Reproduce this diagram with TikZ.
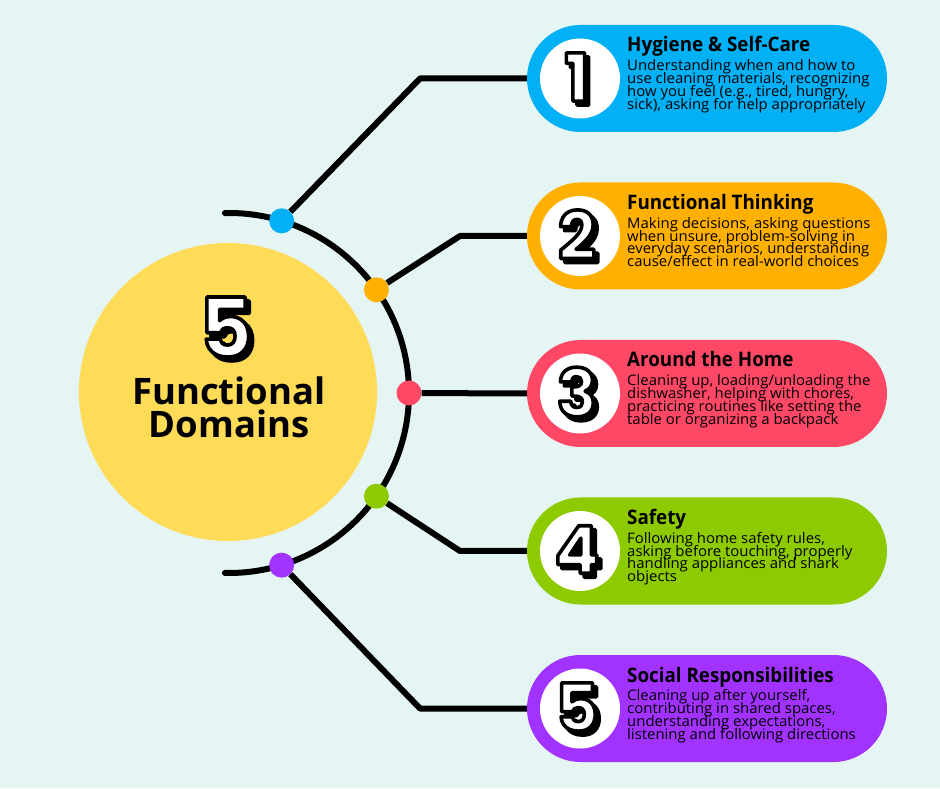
\documentclass[tikz,border=0pt]{standalone}
\usepackage{fontspec}
\setmainfont{Open Sans}
\newfontfamily\numfont{Poppins}
\newfontfamily\headfont{Open Sans}[FakeStretch=0.94]
\newfontfamily\bodyfont{Open Sans}[FakeStretch=1.03]
\usetikzlibrary{calc}
\setlength{\lineskiplimit}{-20pt}

\definecolor{mint}{HTML}{E5F5F4}
\definecolor{sunny}{HTML}{FFDC58}
\definecolor{skyblue}{HTML}{02B0F5}
\definecolor{amber}{HTML}{FFB000}
\definecolor{rosered}{HTML}{FF4766}
\definecolor{limegreen}{HTML}{8DCB00}
\definecolor{violet}{HTML}{A132FF}

\tikzset{
  dot/.style={circle, inner sep=0pt, minimum size=25pt},
  pill/.style={rectangle, rounded corners=53.5pt, minimum width=360pt, minimum height=107pt, inner sep=0pt},
  numdisc/.style={circle, fill=white, inner sep=0pt, minimum size=80pt},
  link/.style={line width=6pt, line join=round},
  heading/.style={anchor=base west, inner sep=0pt, font=\headfont\bfseries\fontsize{20}{22}\selectfont},
  blurb/.style={anchor=north west, inner sep=0pt, align=left, font=\bodyfont\fontsize{14.5}{12.8}\selectfont},
  bigword/.style={anchor=base, inner sep=0pt, font=\bfseries\fontsize{36.5}{36.5}\selectfont},
  digit/.style={inner sep=0pt, text=white, font=\numfont\bfseries\fontsize{#1}{#1}\selectfont},
}

%contour noir sur le chiffre (mode de rendu 2)
\newcommand{\inked}[1]{\special{pdf:literal direct 2 Tr 3.6 w 1 j 0 G}#1\special{pdf:literal direct 0 Tr}}
%ombre noire puis chiffre blanc
\newcommand{\puffy}[1]{\rlap{\smash{\raisebox{-4pt}{\kern4pt\textcolor{black}{\inked{#1}}}}}\inked{#1}}

\begin{document}
\begin{tikzpicture}[x=1pt,y=1pt]

    %Fond
    \fill[mint] (0,0) rectangle (940,788);
    \useasboundingbox (0,0) rectangle (940,788);

    %Cercle central
    \node[circle, fill=sunny, inner sep=0pt, minimum size=298pt] (hub) at (228,396) {};
    \coordinate (arcc) at (229,395);
    \node[bigword] (fn) at (229,383) {Functional};
    \node[bigword] (dom) at (229,350) {Domains};

    %Arc
    \draw[line width=6pt, line cap=round] ($(arcc)+(91.3:180pt)$) arc[start angle=91.3, end angle=-91.3, radius=180pt];

    %Points sur l'arc
    \node[dot, fill=skyblue] (d1) at ($(arcc)+(73:180pt)$) {};
    \node[dot, fill=amber] (d2) at ($(arcc)+(35:180pt)$) {};
    \node[dot, fill=rosered] (d3) at ($(arcc)+(0:180pt)$) {};
    \node[dot, fill=limegreen] (d4) at ($(arcc)+(-35:180pt)$) {};
    \node[dot, fill=violet] (d5) at ($(arcc)+(-73:180pt)$) {};

    %Cartes
    \node[pill, fill=skyblue] (p1) at (707,709.5) {};
    \node[pill, fill=amber] (p2) at (707,552) {};
    \node[pill, fill=rosered] (p3) at (707,394.5) {};
    \node[pill, fill=limegreen] (p4) at (707,237) {};
    \node[pill, fill=violet] (p5) at (707,79.5) {};

    %Coudes
    \coordinate (b1) at (420,709.5);
    \coordinate (b2) at (460,552);
    \coordinate (b4) at (460,237);
    \coordinate (b5) at (420,79.5);

    %Liens
    \draw[link] (d1) -- (b1) -- (p1.west);
    \draw[link] (d2) -- (b2) -- (p2.west);
    \draw[link] (d3) -- (p3.west);
    \draw[link] (d4) -- (b4) -- (p4.west);
    \draw[link] (d5) -- (b5) -- (p5.west);

    %Disques
    \node[numdisc] (c1) at (580,709.5) {};
    \node[numdisc] (c2) at (580,552) {};
    \node[numdisc] (c3) at (580,394.5) {};
    \node[numdisc] (c4) at (580,237) {};
    \node[numdisc] (c5) at (580,79.5) {};

    %Textes
    \node[heading] (h1) at (627,736) {Hygiene \& Self-Care};
    \node[blurb] (t1) at (627,728.5) {Understanding when and how to\\use cleaning materials, recognizing\\how you feel (e.g., tired, hungry,\\sick), asking for help appropriately};
    \node[heading] (h2) at (627,578.5) {Functional Thinking};
    \node[blurb] (t2) at (627,571) {Making decisions, asking questions\\when unsure, problem-solving in\\everyday scenarios, understanding\\cause/effect in real-world choices};
    \node[heading] (h3) at (627,421) {Around the Home};
    \node[blurb] (t3) at (627,413.5) {Cleaning up, loading/unloading the\\dishwasher, helping with chores,\\practicing routines like setting the\\table or organizing a backpack};
    \node[heading] (h4) at (627,263.5) {Safety};
    \node[blurb] (t4) at (627,256) {Following home safety rules,\\asking before touching, properly\\handling appliances and shark\\objects};
    \node[heading] (h5) at (627,106) {Social Responsibilities};
    \node[blurb] (t5) at (627,98.5) {Cleaning up after yourself,\\contributing in shared spaces,\\understanding expectations,\\listening and following directions};

    %Chiffres
    \node[digit=82] (fivenum) at (226,461) {\puffy{5}};
    \node[digit=66] (n1) at (577,711) {\puffy{1}};
    \node[digit=66] (n2) at (577,553.5) {\puffy{2}};
    \node[digit=66] (n3) at (577,396) {\puffy{3}};
    \node[digit=66] (n4) at (577,238.5) {\puffy{4}};
    \node[digit=66] (n5) at (577,81) {\puffy{5}};

\end{tikzpicture}
\end{document}
